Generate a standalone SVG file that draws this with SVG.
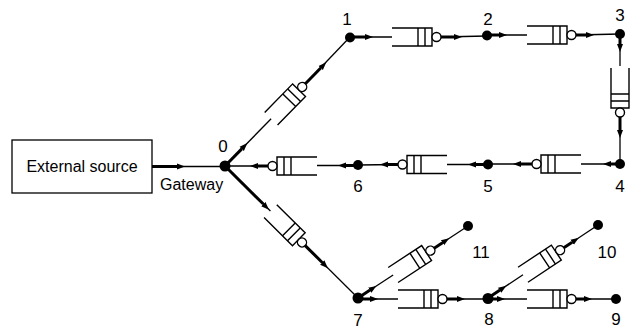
<svg xmlns="http://www.w3.org/2000/svg" xmlns:xlink="http://www.w3.org/1999/xlink" width="641" height="329" viewBox="0 0 641 329">
<style>
.thin{stroke:#000;stroke-width:1.3;fill:none}
.thick{stroke:#000;stroke-width:3;fill:none}
.qw{stroke:#000;stroke-width:1.4;fill:none}
.qc{stroke:#000;stroke-width:1.4;fill:#fff}
.node{fill:#000}
.lbl{font-family:"Liberation Sans",Arial,sans-serif;font-size:17px;fill:#000;text-anchor:middle}
.txt{font-family:"Liberation Sans",Arial,sans-serif;font-size:16px;fill:#000}
</style>
<defs>
<marker id="ah" markerUnits="userSpaceOnUse" markerWidth="10" markerHeight="8" viewBox="0 -4 10 8" refX="0" refY="0" orient="auto">
<path d="M0,-3 L8,0 L0,3 z" fill="#000"/>
</marker>
<g id="queue">
<path class="qw" d="M0,-9 H40 V9 H0"/>
<path class="qw" d="M26,-9 V9 M33,-9 V9"/>
<circle class="qc" cx="44.5" cy="0" r="4.5"/>
</g>
</defs>
<rect width="641" height="329" fill="#fff"/>

<g id="connectors">
<!-- external source to 0 -->
<line class="thin" x1="152" y1="166.5" x2="225" y2="166.5"/>
<line class="thick" x1="152" y1="166.5" x2="177" y2="166.5" marker-end="url(#ah)"/>
<!-- 0 -> q01 -> 1 -->
<line class="thin" x1="225" y1="166" x2="271.11" y2="118.78"/>
<line class="thick" x1="225" y1="166" x2="241.77" y2="148.83" marker-end="url(#ah)"/>
<line class="thin" x1="305.35" y1="83.72" x2="350" y2="37"/>
<line class="thick" x1="305.35" y1="83.72" x2="320.72" y2="67.98" marker-end="url(#ah)"/>
<!-- 1 -> q12 -> 2 -->
<line class="thin" x1="350" y1="37" x2="392" y2="37"/>
<line class="thick" x1="350" y1="37" x2="365" y2="37" marker-end="url(#ah)"/>
<line class="thin" x1="441" y1="37" x2="487" y2="36"/>
<line class="thick" x1="441" y1="37" x2="454" y2="37" marker-end="url(#ah)"/>
<!-- 2 -> q23 -> 3 -->
<line class="thin" x1="487" y1="35" x2="527" y2="35"/>
<line class="thick" x1="487" y1="35" x2="499" y2="35" marker-end="url(#ah)"/>
<line class="thin" x1="576" y1="35" x2="620" y2="34"/>
<line class="thick" x1="576" y1="35" x2="586" y2="35" marker-end="url(#ah)"/>
<!-- 3 -> q34 -> 4 -->
<line class="thin" x1="620" y1="34" x2="620" y2="66"/>
<line class="thick" x1="620" y1="34" x2="620" y2="44" marker-end="url(#ah)"/>
<line class="thin" x1="620" y1="117" x2="620" y2="163"/>
<line class="thick" x1="620" y1="117" x2="620" y2="130" marker-end="url(#ah)"/>
<!-- 4 -> q45 -> 5 -->
<line class="thin" x1="620" y1="164" x2="581" y2="164"/>
<line class="thick" x1="620" y1="164" x2="611" y2="164" marker-end="url(#ah)"/>
<line class="thin" x1="532" y1="164" x2="488" y2="164"/>
<line class="thick" x1="532" y1="164" x2="521" y2="164" marker-end="url(#ah)"/>
<!-- 5 -> q56 -> 6 -->
<line class="thin" x1="488" y1="164.5" x2="447" y2="164.5"/>
<line class="thick" x1="488" y1="164.5" x2="476" y2="164.5" marker-end="url(#ah)"/>
<line class="thin" x1="398" y1="164.5" x2="358" y2="165"/>
<line class="thick" x1="398" y1="164.5" x2="388" y2="164.5" marker-end="url(#ah)"/>
<!-- 6 -> q60 -> 0 -->
<line class="thin" x1="358" y1="165.5" x2="317" y2="165.5"/>
<line class="thick" x1="358" y1="165.5" x2="346" y2="165.5" marker-end="url(#ah)"/>
<line class="thin" x1="268" y1="166" x2="225" y2="166"/>
<line class="thick" x1="268" y1="166" x2="258" y2="166" marker-end="url(#ah)"/>
<!-- 0 -> q07 -> 7 -->
<line class="thin" x1="225" y1="166" x2="270.42" y2="211.08"/>
<line class="thick" x1="225" y1="166" x2="263.32" y2="204.04" marker-end="url(#ah)"/>
<line class="thin" x1="305.20" y1="245.60" x2="358" y2="298"/>
<line class="thick" x1="305.20" y1="245.60" x2="322.23" y2="262.50" marker-end="url(#ah)"/>
<!-- 7 -> q711 -> 11 -->
<line class="thin" x1="358" y1="298" x2="393.14" y2="275.00"/>
<line class="thick" x1="358" y1="298" x2="369.71" y2="290.33" marker-end="url(#ah)"/>
<line class="thin" x1="434.13" y1="248.17" x2="468" y2="226"/>
<line class="thick" x1="434.13" y1="248.17" x2="442.50" y2="242.69" marker-end="url(#ah)"/>
<!-- 7 -> q78 -> 8 -->
<line class="thin" x1="358" y1="299" x2="398" y2="299"/>
<line class="thick" x1="358" y1="299" x2="370" y2="299" marker-end="url(#ah)"/>
<line class="thin" x1="447" y1="299" x2="488" y2="299"/>
<line class="thick" x1="447" y1="299" x2="457" y2="299" marker-end="url(#ah)"/>
<!-- 8 -> q810 -> 10 -->
<line class="thin" x1="488" y1="298" x2="523.0" y2="274.77"/>
<line class="thick" x1="488" y1="298" x2="499.67" y2="290.26" marker-end="url(#ah)"/>
<line class="thin" x1="563.83" y1="247.68" x2="598" y2="225"/>
<line class="thick" x1="563.83" y1="247.68" x2="572.16" y2="242.15" marker-end="url(#ah)"/>
<!-- 8 -> q89 -> 9 -->
<line class="thin" x1="488" y1="299" x2="527" y2="299"/>
<line class="thick" x1="488" y1="299" x2="497" y2="299" marker-end="url(#ah)"/>
<line class="thin" x1="576" y1="299" x2="616" y2="299"/>
<line class="thick" x1="576" y1="299" x2="584" y2="299" marker-end="url(#ah)"/>
</g>

<g id="queues">
<use id="q01" xlink:href="#queue" href="#queue" transform="translate(271.11,118.78) rotate(-45.67)"/>
<use id="q12" xlink:href="#queue" href="#queue" transform="translate(392,37)"/>
<use id="q23" xlink:href="#queue" href="#queue" transform="translate(527,35)"/>
<use id="q34" xlink:href="#queue" href="#queue" transform="translate(620,68) rotate(90)"/>
<use id="q45" xlink:href="#queue" href="#queue" transform="translate(581,164) rotate(180)"/>
<use id="q56" xlink:href="#queue" href="#queue" transform="translate(447,164.5) rotate(180)"/>
<use id="q60" xlink:href="#queue" href="#queue" transform="translate(317,166) rotate(180)"/>
<use id="q07" xlink:href="#queue" href="#queue" transform="translate(270.42,211.08) rotate(44.78)"/>
<use id="q711" xlink:href="#queue" href="#queue" transform="translate(393.14,275.00) rotate(-33.21)"/>
<use id="q78" xlink:href="#queue" href="#queue" transform="translate(398,299)"/>
<use id="q810" xlink:href="#queue" href="#queue" transform="translate(523.0,274.77) rotate(-33.57)"/>
<use id="q89" xlink:href="#queue" href="#queue" transform="translate(527,299)"/>
</g>

<g id="ext-source">
<rect x="12" y="140" width="140" height="53" fill="#fff" stroke="#000" stroke-width="1.3"/>
<text class="txt" x="82" y="172" text-anchor="middle">External source</text>
</g>

<g id="n0">
<circle class="node" cx="225" cy="166" r="5.5"/>
<text class="lbl" x="223" y="152">0</text>
<text class="txt" x="160" y="190">Gateway</text>
</g>
<g id="n1"><circle class="node" cx="350" cy="37.5" r="5"/><text class="lbl" x="347" y="25">1</text></g>
<g id="n2"><circle class="node" cx="487" cy="35.5" r="5"/><text class="lbl" x="488" y="25">2</text></g>
<g id="n3"><circle class="node" cx="620" cy="34" r="5"/><text class="lbl" x="620" y="21">3</text></g>
<g id="n4"><circle class="node" cx="620" cy="164" r="5"/><text class="lbl" x="620" y="192">4</text></g>
<g id="n5"><circle class="node" cx="488" cy="164.5" r="5"/><text class="lbl" x="488" y="192">5</text></g>
<g id="n6"><circle class="node" cx="358" cy="165" r="5"/><text class="lbl" x="358" y="192">6</text></g>
<g id="n7"><circle class="node" cx="358" cy="298" r="5.5"/><text class="lbl" x="358" y="326">7</text></g>
<g id="n8"><circle class="node" cx="488" cy="298.5" r="5.5"/><text class="lbl" x="489" y="325">8</text></g>
<g id="n9"><circle class="node" cx="616" cy="299" r="5"/><text class="lbl" x="616" y="325">9</text></g>
<g id="n10"><circle class="node" cx="598" cy="225" r="5"/><text class="lbl" x="607" y="258">10</text></g>
<g id="n11"><circle class="node" cx="468" cy="226" r="5"/><text class="lbl" x="481" y="258">11</text></g>
</svg>
